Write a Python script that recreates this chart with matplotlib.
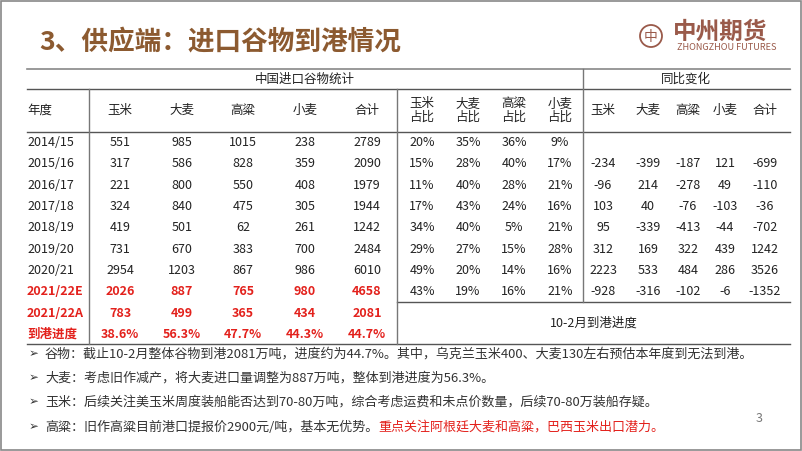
import matplotlib
matplotlib.use("Agg")
import matplotlib.pyplot as plt
from matplotlib.patches import Circle, Rectangle

plt.rcParams['font.family'] = ['Noto Sans CJK SC', 'DejaVu Sans']

# 数据
years = ["2014/15", "2015/16", "2016/17", "2017/18", "2018/19", "2019/20",
         "2020/21", "2021/22E", "2021/22A", "到港进度"]
grains = ["玉米", "大麦", "高粱", "小麦", "合计"]
imports = [
    ["551", "985", "1015", "238", "2789"],
    ["317", "586", "828", "359", "2090"],
    ["221", "800", "550", "408", "1979"],
    ["324", "840", "475", "305", "1944"],
    ["419", "501", "62", "261", "1242"],
    ["731", "670", "383", "700", "2484"],
    ["2954", "1203", "867", "986", "6010"],
    ["2026", "887", "765", "980", "4658"],
    ["783", "499", "365", "434", "2081"],
    ["38.6%", "56.3%", "47.7%", "44.3%", "44.7%"],
]
share_heads = ["玉米\n占比", "大麦\n占比", "高粱\n占比", "小麦\n占比"]
shares = [
    ["20%", "35%", "36%", "9%"],
    ["15%", "28%", "40%", "17%"],
    ["11%", "40%", "28%", "21%"],
    ["17%", "43%", "24%", "16%"],
    ["34%", "40%", "5%", "21%"],
    ["29%", "27%", "15%", "28%"],
    ["49%", "20%", "14%", "16%"],
    ["43%", "19%", "16%", "21%"],
]
yoy = [
    ["", "", "", "", ""],
    ["-234", "-399", "-187", "121", "-699"],
    ["-96", "214", "-278", "49", "-110"],
    ["103", "40", "-76", "-103", "-36"],
    ["95", "-339", "-413", "-44", "-702"],
    ["312", "169", "322", "439", "1242"],
    ["2223", "533", "484", "286", "3526"],
    ["-928", "-316", "-102", "-6", "-1352"],
]
notes = [
    ("谷物：截止10-2月整体谷物到港2081万吨，进度约为44.7%。其中，乌克兰玉米400、大麦130左右预估本年度到无法到港。", ""),
    ("大麦：考虑旧作减产，将大麦进口量调整为887万吨，整体到港进度为56.3%。", ""),
    ("玉米：后续关注美玉米周度装船能否达到70-80万吨，综合考虑运费和未点价数量，后续70-80万装船存疑。", ""),
    ("高粱：旧作高粱目前港口提报价2900元/吨，基本无优势。", "重点关注阿根廷大麦和高粱，巴西玉米出口潜力。"),
]

W, H = 802, 451
fig = plt.figure(figsize=(W / 100, H / 100), dpi=100)
ax = fig.add_axes([0, 0, 1, 1])
ax.set_xlim(0, W)
ax.set_ylim(H, 0)
ax.axis("off")

brown = "#8c5a30"
logo = "#9a5a4a"
red = "#e3211c"
dark = "#222222"
fs = 9

# 边框
ax.add_patch(Rectangle((0.5, 0.5), W - 2, H - 2, fill=False, ec="#888888", lw=1.2))

# 标题
ax.text(39, 42, "3、供应端：进口谷物到港情况", fontsize=19.2, fontweight="bold",
        color=brown, va="center", ha="left")

# logo
ax.add_patch(Circle((651, 36), 11, fill=False, ec=logo, lw=1.3))
ax.text(651, 37, "中", fontsize=10, color=logo, ha="center", va="center")
ax.text(673, 32, "中州期货", fontsize=17, color=logo, ha="left", va="center", fontweight="bold")
ax.text(677, 47.5, "ZHONGZHOU FUTURES", fontsize=6.6, color=logo, ha="left", va="center")

# 表格线
x_l, x_r = 27, 790
x_v1, x_v2, x_v3 = 89, 397, 583
y_top, y_h1, y_h2 = 69, 89, 132
row_h = 21.3
y_mid = 302
y_bot = 344
line_c = "#555555"
ax.plot([x_l, x_r], [y_top, y_top], color="#888888", lw=1.2)
ax.plot([x_l, x_r], [y_h1, y_h1], color=line_c, lw=1.0)
ax.plot([x_l, x_r], [y_h2, y_h2], color=line_c, lw=1.0)
ax.plot([x_v2, x_r], [y_mid, y_mid], color=line_c, lw=1.0)
ax.plot([x_l, x_r], [y_bot, y_bot], color=line_c, lw=1.0)
ax.plot([x_v1, x_v1], [y_h1, y_bot], color="#777777", lw=1.0)
ax.plot([x_v2, x_v2], [y_h1, y_bot], color="#777777", lw=1.0)
ax.plot([x_v3, x_v3], [y_top, y_mid], color="#777777", lw=1.0)

# 表头
ax.text(305, 79.5, "中国进口谷物统计", fontsize=fs, ha="center", va="center", color=dark)
ax.text(686, 79.5, "同比变化", fontsize=fs, ha="center", va="center", color=dark)
y_hd = (y_h1 + y_h2) / 2
col_imp = [120, 182, 243, 305, 367]
col_shr = [422, 468, 514, 560]
col_yoy = [603, 648, 688, 725, 765]
ax.text(x_l, y_hd, "年度", fontsize=fs, ha="left", va="center", color=dark)
for x, g in zip(col_imp, grains):
    ax.text(x, y_hd, g, fontsize=fs, ha="center", va="center", color=dark)
for x, g in zip(col_shr, share_heads):
    ax.text(x, y_hd, g, fontsize=fs, ha="center", va="center", color=dark, linespacing=1.0)
for x, g in zip(col_yoy, grains):
    ax.text(x, y_hd, g, fontsize=fs, ha="center", va="center", color=dark)

# 数据行
for i, yr in enumerate(years):
    y = y_h2 + row_h * (i + 0.5)
    hl = i >= 7
    c = red if hl else dark
    fw = "bold" if hl else "normal"
    ax.text(x_l, y, yr, fontsize=fs, ha="left", va="center", color=c, fontweight=fw)
    for x, v in zip(col_imp, imports[i]):
        ax.text(x, y, v, fontsize=fs, ha="center", va="center", color=c, fontweight=fw)
    if i < len(shares):
        for x, v in zip(col_shr, shares[i]):
            ax.text(x, y, v, fontsize=fs, ha="center", va="center", color=dark)
        for x, v in zip(col_yoy, yoy[i]):
            ax.text(x, y, v, fontsize=fs, ha="center", va="center", color=dark)

ax.text((x_v2 + x_r) / 2, (y_mid + y_bot) / 2, "10-2月到港进度", fontsize=fs,
        ha="center", va="center", color=dark)

# 说明文字
note_y = [354, 378, 402, 427]
for y, (txt, red_txt) in zip(note_y, notes):
    ax.text(29, y, "➢", fontsize=8.5, ha="left", va="center", color="#333333",
            family=["DejaVu Sans"])
    t = ax.text(45, y, txt, fontsize=9.4, ha="left", va="center", color="#333333")
    if red_txt:
        fig.canvas.draw()
        bb = t.get_window_extent()
        x_end = ax.transData.inverted().transform((bb.x1, bb.y0))[0]
        ax.text(x_end, y, red_txt, fontsize=9.4, ha="left", va="center", color=red)

ax.text(759, 418, "3", fontsize=9, ha="center", va="center", color="#777777")

fig.savefig("out.png", dpi=100)
